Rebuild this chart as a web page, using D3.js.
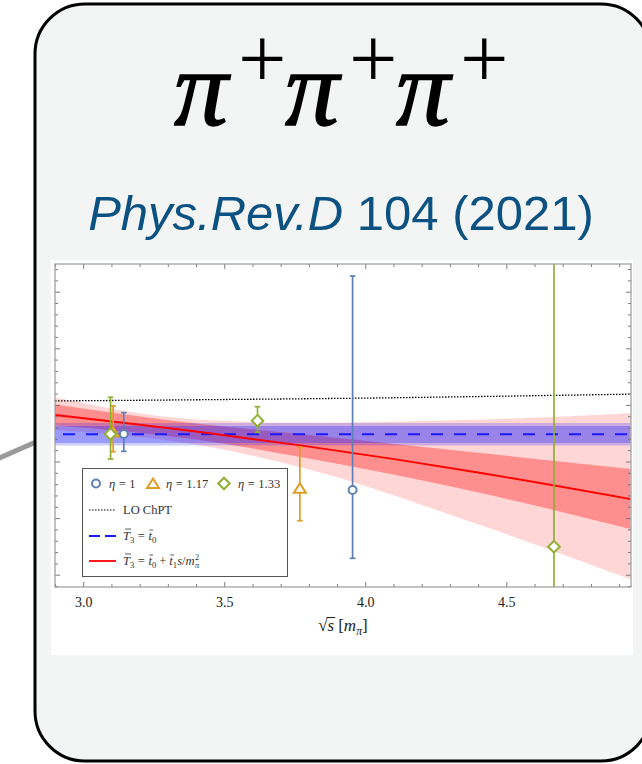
<!DOCTYPE html>
<html>
<head>
<meta charset="utf-8">
<script src="https://cdn.jsdelivr.net/npm/d3@7"></script>
<style>
  html, body { margin: 0; padding: 0; background: #ffffff; }
  svg { display: block; }
</style>
</head>
<body>
<svg id="chart" width="642" height="764"></svg>
<script>
// ---- data: measurements of the three-pion quantity vs sqrt(s) [m_pi] ----
const seriesNames = ["η = 1", "η = 1.17", "η = 1.33"];

const eta1X  = [3.144, 3.955];
const eta1Y  = [0.486, -0.504];
const eta1Lo = [0.180, -1.710];
const eta1Hi = [0.862, 3.277];

const eta117X  = [3.106, 3.768];
const eta117Y  = [0.521, -0.473];
const eta117Lo = [0.173, -1.046];
const eta117Hi = [0.981, 0.251];

const eta133X  = [3.097, 3.618, 4.669];
const eta133Y  = [0.486, 0.721, -1.505];
const eta133Lo = [0.044, 0.516, -4.5];
const eta133Hi = [1.134, 0.968, 5.5];

// leading-order ChPT curve
const loX = [2.9, 3.5, 4.0, 4.5, 4.94];
const loY = [1.07, 1.095, 1.12, 1.155, 1.19];

// constant fit  T3 = t0
const constX = [2.9, 4.94];
const constY = [0.481, 0.481];
const constInnerLo = [0.327, 0.327];
const constInnerHi = [0.627, 0.627];
const constOuterLo = [0.283, 0.283];
const constOuterHi = [0.680, 0.680];

// linear-in-s fit  T3 = t0 + t1 s/m^2
const fitX       = [2.9, 3.4, 3.77, 4.41, 4.94];
const fitY       = [0.822, 0.530, 0.283, -0.203, -0.663];
const fitInnerLo = [0.636, 0.389, 0.078, -0.557, -1.193];
const fitInnerHi = [1.007, 0.671, 0.488, 0.150, -0.133];
const fitOuterLo = [0.557, 0.300, -0.101, -1.127, -2.081];
const fitOuterHi = [1.131, 0.742, 0.684, 0.740, 0.852];

// axis ticks
const xMajor = [3.0, 3.5, 4.0, 4.5];
const xMajorLabels = ["3.0", "3.5", "4.0", "4.5"];
const xMinor = d3.range(29, 50).map(i => i / 10).filter(v => !xMajor.includes(v));
const yMajor = [-2, -1, 0, 1, 2, 3];
const yMinor = d3.range(-11, 18).map(i => +(i * 0.2).toFixed(1)).filter(v => !yMajor.includes(v));

const colors = { eta1: "#5e81b5", eta117: "#e19c24", eta133: "#8fb032" };

// ---- layout ----
const svg = d3.select("#chart");
const serif = "'Liberation Serif', 'DejaVu Serif', serif";
const sans = "'Liberation Sans', Arial, sans-serif";

// connector stub leaving the card
svg.append("line")
  .attr("x1", -5).attr("y1", 460).attr("x2", 45).attr("y2", 438)
  .attr("stroke", "#9a9a9a").attr("stroke-width", 5);

// card
svg.append("rect")
  .attr("x", 35).attr("y", 4).attr("width", 616).attr("height", 757)
  .attr("rx", 50).attr("ry", 50)
  .attr("fill", "#f3f4f4").attr("stroke", "#000").attr("stroke-width", 3);

// title  pi+ pi+ pi+
const title = svg.append("g");
for (let i = 0; i < 3; i++) {
  title.append("text")
    .attr("x", 174 + i * 111).attr("y", 125)
    .attr("font-family", serif).attr("font-style", "italic")
    .attr("font-size", 108).attr("fill", "#000")
    .attr("stroke", "#000").attr("stroke-width", 1.5).text("π");
  title.append("text")
    .attr("x", 238 + i * 111).attr("y", 88)
    .attr("font-family", serif).attr("font-size", 86).attr("fill", "#000").text("+");
}

// reference line
const ref = svg.append("text")
  .attr("x", 341).attr("y", 230).attr("text-anchor", "middle")
  .attr("font-family", sans).attr("font-size", 49).attr("fill", "#0b5283");
ref.append("tspan").attr("font-style", "italic").text("Phys.Rev.D");
ref.append("tspan").text("\u00a0104 (2021)");

// white plot panel
svg.append("rect").attr("x", 51).attr("y", 260).attr("width", 582).attr("height", 395)
  .attr("fill", "#ffffff");

const L = 55, R = 631, T = 264, B = 587;
const x = d3.scaleLinear().domain([2.9, 4.942]).range([L, R]);
const y = d3.scaleLinear().domain([-2.217, 3.489]).range([B, T]);

svg.append("clipPath").attr("id", "plotclip")
  .append("rect").attr("x", L).attr("y", T).attr("width", R - L).attr("height", B - T);
const plot = svg.append("g").attr("clip-path", "url(#plotclip)");

const zipBand = (xs, lo, hi) => xs.map((v, i) => ({ x: v, lo: lo[i], hi: hi[i] }));
const area = d3.area().x(d => x(d.x)).y0(d => y(d.lo)).y1(d => y(d.hi)).curve(d3.curveMonotoneX);
const line = d3.line().x(d => x(d[0])).y(d => y(d[1])).curve(d3.curveMonotoneX);

// fit bands
plot.append("path").datum(zipBand(fitX, fitOuterLo, fitOuterHi)).attr("d", area)
  .attr("fill", "rgba(255,0,0,0.16)");
plot.append("path").datum(zipBand(fitX, fitInnerLo, fitInnerHi)).attr("d", area)
  .attr("fill", "rgba(255,0,0,0.33)");
plot.append("path").datum(zipBand(constX, constOuterLo, constOuterHi)).attr("d", area)
  .attr("fill", "rgba(0,0,255,0.2)");
plot.append("path").datum(zipBand(constX, constInnerLo, constInnerHi)).attr("d", area)
  .attr("fill", "rgba(40,40,255,0.3)");

// curves
plot.append("path").datum(d3.zip(loX, loY)).attr("d", line)
  .attr("fill", "none").attr("stroke", "#000").attr("stroke-width", 1.3)
  .attr("stroke-dasharray", "1.5 1.5");
plot.append("path").datum(d3.zip(constX, constY)).attr("d", line)
  .attr("fill", "none").attr("stroke", "#1a1aff").attr("stroke-width", 2)
  .attr("stroke-dasharray", "12 11").attr("stroke-dashoffset", 15);
plot.append("path").datum(d3.zip(fitX, fitY)).attr("d", line)
  .attr("fill", "none").attr("stroke", "#ff0000").attr("stroke-width", 1.8);

// marker shapes
const markerPath = {
  circle: d3.symbol().type(d3.symbolCircle).size(Math.PI * 4 * 4)(),
  triangle: "M0,-5L6,4.5L-6,4.5Z",
  diamond: "M0,-5.8L5.8,0L0,5.8L-5.8,0Z"
};

function drawSeries(xs, ys, lo, hi, color, shape) {
  const g = plot.append("g");
  xs.forEach((xv, i) => {
    const px = x(xv);
    g.append("line").attr("x1", px).attr("x2", px).attr("y1", y(hi[i])).attr("y2", y(lo[i]))
      .attr("stroke", color).attr("stroke-width", 1.7);
    [hi[i], lo[i]].forEach(v => g.append("line")
      .attr("x1", px - 2.8).attr("x2", px + 2.8).attr("y1", y(v)).attr("y2", y(v))
      .attr("stroke", color).attr("stroke-width", 1.7));
  });
  xs.forEach((xv, i) => {
    g.append("path").attr("d", markerPath[shape])
      .attr("transform", `translate(${x(xv)},${y(ys[i])})`)
      .attr("fill", "#fff").attr("stroke", color).attr("stroke-width", 2);
  });
}
drawSeries(eta117X, eta117Y, eta117Lo, eta117Hi, colors.eta117, "triangle");
drawSeries(eta133X, eta133Y, eta133Lo, eta133Hi, colors.eta133, "diamond");
drawSeries(eta1X, eta1Y, eta1Lo, eta1Hi, colors.eta1, "circle");

// frame and ticks
const axesG = svg.append("g");
const tickStyle = g => {
  g.select(".domain").remove();
  g.selectAll(".tick line").attr("stroke", "#6e6e6e").attr("stroke-width", 0.9);
};
const mk = (axis, vals, size, tr, labels) => {
  const a = axis.tickValues(vals).tickSize(-size).tickPadding(10);
  if (labels) a.tickFormat((d, i) => labels[i]); else a.tickFormat("");
  const g = axesG.append("g").attr("transform", tr).call(a).call(tickStyle);
  g.selectAll("text").attr("font-family", serif).attr("font-size", 14).attr("fill", "#222");
  return g;
};
mk(d3.axisBottom(x), xMajor, 5, `translate(0,${B})`, xMajorLabels);
mk(d3.axisBottom(x), xMinor, 3, `translate(0,${B})`);
mk(d3.axisTop(x), xMajor, 5, `translate(0,${T})`);
mk(d3.axisTop(x), xMinor, 3, `translate(0,${T})`);
mk(d3.axisLeft(y), yMajor, 5, `translate(${L},0)`);
mk(d3.axisLeft(y), yMinor, 3, `translate(${L},0)`);
mk(d3.axisRight(y), yMajor, 5, `translate(${R},0)`);
mk(d3.axisRight(y), yMinor, 3, `translate(${R},0)`);
axesG.append("rect").attr("x", L).attr("y", T).attr("width", R - L).attr("height", B - T)
  .attr("fill", "none").attr("stroke", "#9a9a9a").attr("stroke-width", 1.2);

// inline math typesetting from measured glyph runs
function mathRun(parent, x0, y0, pieces, size, fill) {
  const g = parent.append("g").attr("transform", `translate(${x0},${y0})`);
  let cx = 0;
  const put = (str, px, py, sz, it) => g.append("text")
    .attr("x", px).attr("y", py).attr("font-family", serif).attr("font-size", sz)
    .attr("font-style", it ? "italic" : "normal").attr("fill", fill).text(str)
    .node().getComputedTextLength();
  pieces.forEach(p => {
    cx += p.l || 0;
    if (p.stack) {
      const s = size * 0.66;
      const w1 = put(p.stack[0], cx + 0.5, -size * 0.38, s, false);
      const w2 = put(p.stack[1], cx + 0.5, size * 0.26, s, true);
      cx += Math.max(w1, w2) + 0.5;
    } else {
      const sz = p.sub ? size * 0.7 : size;
      const dy = p.sub ? size * 0.24 : 0;
      const w = put(p.t, cx, dy, sz, p.it);
      if (p.bar) {
        g.append("line").attr("x1", cx + w * 0.3).attr("x2", cx + w + 1.2)
          .attr("y1", -p.bar).attr("y2", -p.bar)
          .attr("stroke", fill).attr("stroke-width", 0.8);
      }
      cx += w;
    }
    cx += p.r || 0;
  });
  return { g, width: cx };
}

// x-axis title  sqrt(s) [m_pi]
const xtSize = 17;
const xt = mathRun(svg, 0, 631, [
  { t: "√" }, { t: "s", it: true, r: 4 }, { t: "[" }, { t: "m", it: true }, { t: "π", sub: true, it: true }, { t: "]" }
], xtSize, "#222");
const xtLeft = 343 - xt.width / 2;
xt.g.attr("transform", `translate(${xtLeft},631)`);
// vinculum over s
const sqrtW = svg.append("text").attr("font-family", serif).attr("font-size", xtSize).text("√");
const wRad = sqrtW.node().getComputedTextLength(); sqrtW.remove();
const sTmp = svg.append("text").attr("font-family", serif).attr("font-size", xtSize).attr("font-style", "italic").text("s");
const wS = sTmp.node().getComputedTextLength(); sTmp.remove();
svg.append("line")
  .attr("x1", xtLeft + wRad - 1).attr("x2", xtLeft + wRad + wS + 1)
  .attr("y1", 617.5).attr("y2", 617.5).attr("stroke", "#222").attr("stroke-width", 1);

// legend
const lg = svg.append("g");
lg.append("rect").attr("x", 82.5).attr("y", 468.5).attr("width", 205).attr("height", 108)
  .attr("fill", "#fff").attr("stroke", "#555").attr("stroke-width", 1);
const legendMarkers = [
  { shape: "circle", color: colors.eta1, mx: 96, tx: 109 },
  { shape: "triangle", color: colors.eta117, mx: 153, tx: 166 },
  { shape: "diamond", color: colors.eta133, mx: 224, tx: 238 }
];
legendMarkers.forEach((m, i) => {
  lg.append("path").attr("d", markerPath[m.shape])
    .attr("transform", `translate(${m.mx},483.5)`)
    .attr("fill", "#fff").attr("stroke", m.color).attr("stroke-width", 2);
  const parts = seriesNames[i].split(" = ");
  mathRun(lg, m.tx, 487.5, [{ t: "η", it: true, r: 3.5 }, { t: "=", r: 3.5 }, { t: parts[1] }], 12.5, "#333");
});
const legY = [510, 536, 561];
lg.append("line").attr("x1", 89).attr("x2", 116).attr("y1", legY[0]).attr("y2", legY[0])
  .attr("stroke", "#000").attr("stroke-width", 1.2).attr("stroke-dasharray", "1.5 1.5");
lg.append("line").attr("x1", 89).attr("x2", 116).attr("y1", legY[1]).attr("y2", legY[1])
  .attr("stroke", "#1a1aff").attr("stroke-width", 2).attr("stroke-dasharray", "11 5");
lg.append("line").attr("x1", 89).attr("x2", 116).attr("y1", legY[2]).attr("y2", legY[2])
  .attr("stroke", "#ff0000").attr("stroke-width", 1.8);
mathRun(lg, 123, legY[0] + 4, [{ t: "LO ChPT" }], 12.5, "#333");
mathRun(lg, 123, legY[1] + 4, [
  { t: "T", it: true, bar: 11 }, { t: "3", sub: true, r: 3.5 }, { t: "=", r: 3.5 },
  { t: "t", it: true, bar: 10 }, { t: "0", sub: true }
], 12.5, "#333");
mathRun(lg, 123, legY[2] + 4, [
  { t: "T", it: true, bar: 11 }, { t: "3", sub: true, r: 3.5 }, { t: "=", r: 3.5 },
  { t: "t", it: true, bar: 10 }, { t: "0", sub: true, r: 3 }, { t: "+", r: 3 },
  { t: "t", it: true, bar: 10 }, { t: "1", sub: true }, { t: "s", it: true }, { t: "/" },
  { t: "m", it: true }, { stack: ["2", "π"] }
], 12.5, "#333");
</script>
</body>
</html>
